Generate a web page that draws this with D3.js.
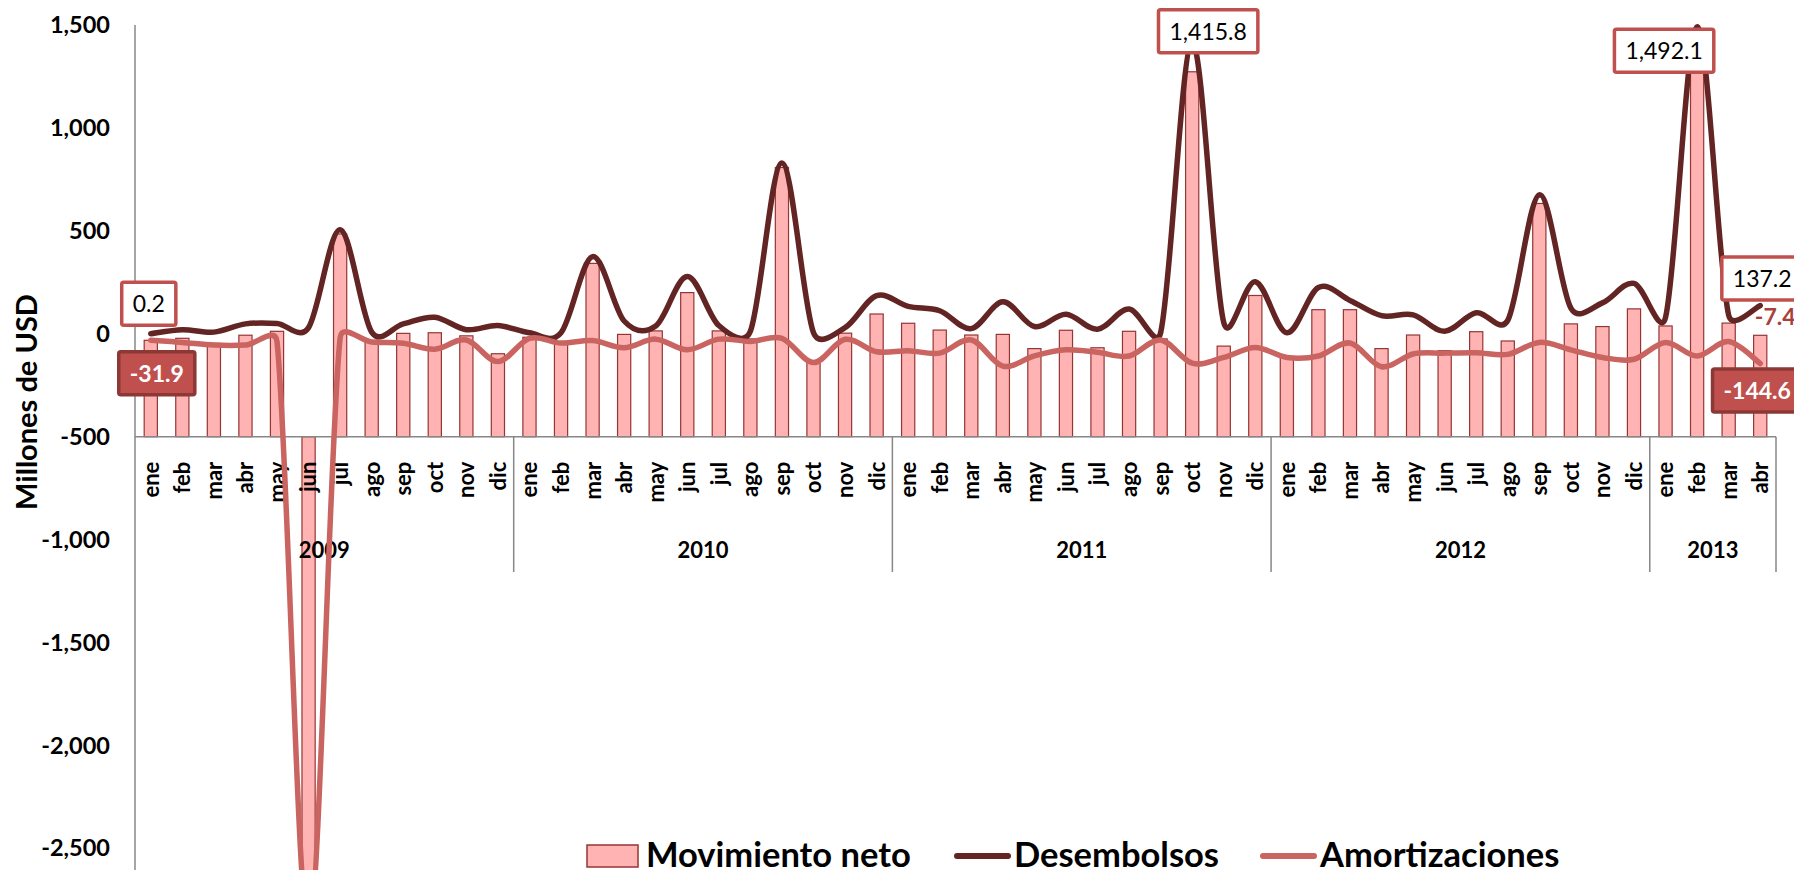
<!DOCTYPE html>
<html>
<head>
<meta charset="utf-8">
<script src="https://cdn.jsdelivr.net/npm/d3@7"></script>
<style>
  html, body { margin: 0; padding: 0; background: #ffffff; }
  svg { display: block; }
  text { font-family: Lato, "Open Sans", "DejaVu Sans", sans-serif; }
</style>
</head>
<body>
<svg id="chart" width="1794" height="870"></svg>
<script>
// Categorías: meses agrupados por año
const meses = ["ene","feb","mar","abr","may","jun","jul","ago","sep","oct","nov","dic"];
const anios = ["2009","2010","2011","2012","2013"];
const mesesPorAnio = [12, 12, 12, 12, 4];

// Millones de USD, ene 2009 – abr 2013
const desembolsos = [
  0.2, 20, 8, 48, 50, 30, 505, 8, 48, 80, 20, 40,
  5, 5, 375, 62, 38, 278, 40, 12, 830, 5, 30, 185,
  133, 112, 25, 155, 35, 95, 22, 120, 5, 1415.8, 55, 253,
  5, 225, 162, 88, 92, 12, 102, 65, 675, 125, 150, 245,
  80, 1492.1, 90, 137.2
];
const amortizaciones = [
  -31.9, -42, -55, -55, -38, -2900, -20, -40, -46, -75, -30, -135,
  -22, -45, -33, -68, -26, -78, -26, -37, -22, -140, -27, -87,
  -82, -94, -30, -157, -107, -78, -90, -108, -30, -143, -115, -67,
  -115, -108, -45, -160, -98, -94, -92, -100, -42, -78, -115, -124,
  -42, -108, -38, -144.6
];
const movimientoNeto = [
  -31.7, -22, -47, -7, 12, -2870, 485, -32, 2, 5, -10, -97,
  -17, -40, 342, -3, 14, 200, 14, -25, 808, -135, 3, 96,
  51, 18, -6, -3, -72, 17, -68, 12, -25, 1272.8, -60, 186,
  -110, 117, 117, -72, -6, -82, 10, -35, 633, 48, 35, 121,
  38, 1384, 52, -7.4
];
const yTicks = [1500, 1000, 500, 0, -500, -1000, -1500, -2000, -2500];
const cruceEje = -500;   // the category axis crosses the value axis here

const categorias = anios.flatMap((a, k) =>
  meses.slice(0, mesesPorAnio[k]).map(m => ({ anio: a, mes: m, key: a + "-" + m })));

const svg = d3.select("#chart");
const W = 1794, H = 870;
svg.append("rect").attr("width", W).attr("height", H).attr("fill", "#ffffff");

const x = d3.scaleBand()
  .domain(categorias.map(d => d.key))
  .range([135, 1776])
  .paddingInner(0.582)
  .paddingOuter(0.291);
const cx = i => x(categorias[i].key) + x.bandwidth() / 2;

const y = d3.scaleLinear().domain([-500, 1500]).range([436.7, 25]);

const fmt = d3.formatLocale({ decimal: ".", thousands: ",", grouping: [3], currency: ["$", ""], minus: "-" });
const fmtEje = fmt.format(",");
const fmtDato = fmt.format(",.1f");

// Smoothed line: Bezier segments whose control arms are 1/6 of the
// neighbour chord, limited to half of the segment length.
function curveSuave(context) {
  let pts;
  return {
    areaStart() {}, areaEnd() {},
    lineStart() { pts = []; },
    point(px, py) { pts.push([+px, +py]); },
    lineEnd() {
      const n = pts.length;
      if (!n) return;
      const dist = (a, b) => Math.hypot(b[0] - a[0], b[1] - a[1]);
      context.moveTo(pts[0][0], pts[0][1]);
      for (let i = 0; i < n - 1; i++) {
        const p0 = pts[Math.max(i - 1, 0)], p1 = pts[i], p2 = pts[i + 1], p3 = pts[Math.min(i + 2, n - 1)];
        const d12 = dist(p1, p2), d02 = dist(p0, p2), d13 = dist(p1, p3);
        const f1 = d02 ? Math.min(1 / 6, d12 / (2 * d02)) : 0;
        const f2 = d13 ? Math.min(1 / 6, d12 / (2 * d13)) : 0;
        context.bezierCurveTo(
          p1[0] + (p2[0] - p0[0]) * f1, p1[1] + (p2[1] - p0[1]) * f1,
          p2[0] - (p3[0] - p1[0]) * f2, p2[1] - (p3[1] - p1[1]) * f2,
          p2[0], p2[1]);
      }
    }
  };
}

const COLOR_BARRA = "#ffb3b3", BORDE_BARRA = "#943634";
const COLOR_DES = "#632523", COLOR_AMO = "#c96461";
const GRIS = "#878787";

// Value axis
const ejeY = svg.append("g")
  .attr("transform", "translate(135,0)")
  .call(d3.axisLeft(y).tickValues(yTicks).tickSize(0).tickPadding(25).tickFormat(fmtEje));
ejeY.select(".domain").attr("stroke", GRIS).attr("stroke-width", 1.5)
  .attr("d", `M0,${y(1500)}V${H + 10}`);
ejeY.selectAll("text")
  .attr("font-family", "Lato, 'Open Sans', sans-serif")
  .attr("font-size", 23.5).attr("font-weight", "bold").attr("fill", "#000");

// Bars from the axis crossing to each net value
svg.append("g").selectAll("rect")
  .data(movimientoNeto)
  .join("rect")
  .attr("x", (d, i) => x(categorias[i].key))
  .attr("width", x.bandwidth())
  .attr("y", d => Math.min(y(d), y(cruceEje)))
  .attr("height", d => Math.abs(y(d) - y(cruceEje)))
  .attr("fill", COLOR_BARRA)
  .attr("stroke", BORDE_BARRA)
  .attr("stroke-width", 1.2);

// Category axis (months)
const ejeX = svg.append("g")
  .attr("transform", `translate(0,${y(cruceEje)})`)
  .call(d3.axisBottom(x).tickSize(0).tickFormat(k => k.split("-")[1]));
ejeX.select(".domain").attr("stroke", GRIS).attr("stroke-width", 1.5)
  .attr("d", `M135,0H1776`);
ejeX.selectAll("text")
  .attr("font-family", "Lato, 'Open Sans', sans-serif")
  .attr("font-size", 22).attr("font-weight", "bold").attr("fill", "#000")
  .attr("text-anchor", "end")
  .attr("y", 0).attr("dy", "0.36em")
  .attr("transform", "translate(0,25) rotate(-90)");

// Year groups: separators and labels
const grupos = anios.map((a, k) => {
  const idx = categorias.map((c, i) => c.anio === a ? i : -1).filter(i => i >= 0);
  const x0 = x(categorias[idx[0]].key) - x.step() * x.paddingOuter();
  const x1 = x(categorias[idx[idx.length - 1]].key) + x.bandwidth() + x.step() * x.paddingOuter();
  return { anio: a, x0, x1 };
});
const gAnios = svg.append("g");
gAnios.selectAll("line")
  .data(grupos)
  .join("line")
  .attr("x1", d => d.x1).attr("x2", d => d.x1)
  .attr("y1", y(cruceEje)).attr("y2", 572)
  .attr("stroke", GRIS).attr("stroke-width", 1.5);
gAnios.selectAll("text")
  .data(grupos)
  .join("text")
  .attr("x", d => (d.x0 + d.x1) / 2)
  .attr("y", 550).attr("dy", "0.36em")
  .attr("text-anchor", "middle")
  .attr("font-size", 22).attr("font-weight", "bold")
  .text(d => d.anio);

// Lines
const linea = d3.line().x((d, i) => cx(i)).y(d => y(d)).curve(curveSuave);
svg.append("path").datum(desembolsos)
  .attr("d", linea).attr("fill", "none")
  .attr("stroke", COLOR_DES).attr("stroke-width", 5.5)
  .attr("stroke-linejoin", "round").attr("stroke-linecap", "round");
svg.append("path").datum(amortizaciones)
  .attr("d", linea).attr("fill", "none")
  .attr("stroke", COLOR_AMO).attr("stroke-width", 5.5)
  .attr("stroke-linejoin", "round").attr("stroke-linecap", "round");

// Value labels
const gEtq = svg.append("g");
function etiqueta(px, py, valor, estilo) {
  const g = gEtq.append("g").attr("transform", `translate(${px},${py})`);
  const rect = g.append("rect");
  const t = g.append("text")
    .attr("text-anchor", "middle").attr("dy", "0.36em")
    .attr("font-size", 23)
    .attr("font-weight", estilo === "relleno" ? "bold" : "normal")
    .attr("fill", estilo === "relleno" ? "#ffffff" : "#000000")
    .text(fmtDato(valor));
  const w = t.node().getComputedTextLength() + 22, h = 43;
  rect.attr("x", -w / 2).attr("y", -h / 2).attr("width", w).attr("height", h).attr("rx", 2)
    .attr("fill", estilo === "relleno" ? "#c0504d" : "#ffffff")
    .attr("stroke", estilo === "relleno" ? "#8c3836" : "#c0504d")
    .attr("stroke-width", 3.5);
}
const ult = desembolsos.length - 1;
etiqueta(cx(0) - 2, y(desembolsos[0]) - 30, desembolsos[0], "borde");
etiqueta(cx(0) + 6, y(amortizaciones[0]) + 33, amortizaciones[0], "relleno");
etiqueta(cx(33) + 16, y(desembolsos[33]) - 11, desembolsos[33], "borde");
etiqueta(cx(49) - 33, y(desembolsos[49]) + 24, desembolsos[49], "borde");
etiqueta(cx(ult) + 2, y(desembolsos[ult]) - 27, desembolsos[ult], "borde");
etiqueta(cx(ult) - 3, y(amortizaciones[ult]) + 27, amortizaciones[ult], "relleno");
gEtq.append("text")
  .attr("x", cx(ult) + 15).attr("y", y(movimientoNeto[ult]) - 19).attr("dy", "0.36em")
  .attr("text-anchor", "middle").attr("font-size", 23).attr("font-weight", "bold")
  .attr("fill", "#a9403c")
  .text(fmtDato(movimientoNeto[ult]));

// Value axis title
svg.append("text")
  .attr("transform", "translate(37,402) rotate(-90)")
  .attr("text-anchor", "middle")
  .attr("font-size", 29).attr("font-weight", "bold")
  .text("Millones de USD");

// Legend
const ley = svg.append("g").attr("font-size", 34.5).attr("font-weight", "bold");
ley.append("rect").attr("x", 587).attr("y", 845).attr("width", 51).attr("height", 22)
  .attr("fill", COLOR_BARRA).attr("stroke", BORDE_BARRA).attr("stroke-width", 1.5);
ley.append("text").attr("x", 646).attr("y", 867).text("Movimiento neto");
ley.append("line").attr("x1", 957).attr("x2", 1008).attr("y1", 856).attr("y2", 856)
  .attr("stroke", COLOR_DES).attr("stroke-width", 6).attr("stroke-linecap", "round");
ley.append("text").attr("x", 1014).attr("y", 867).text("Desembolsos");
ley.append("line").attr("x1", 1263).attr("x2", 1314).attr("y1", 856).attr("y2", 856)
  .attr("stroke", COLOR_AMO).attr("stroke-width", 6).attr("stroke-linecap", "round");
ley.append("text").attr("x", 1320).attr("y", 867).text("Amortizaciones");
</script>
</body>
</html>
